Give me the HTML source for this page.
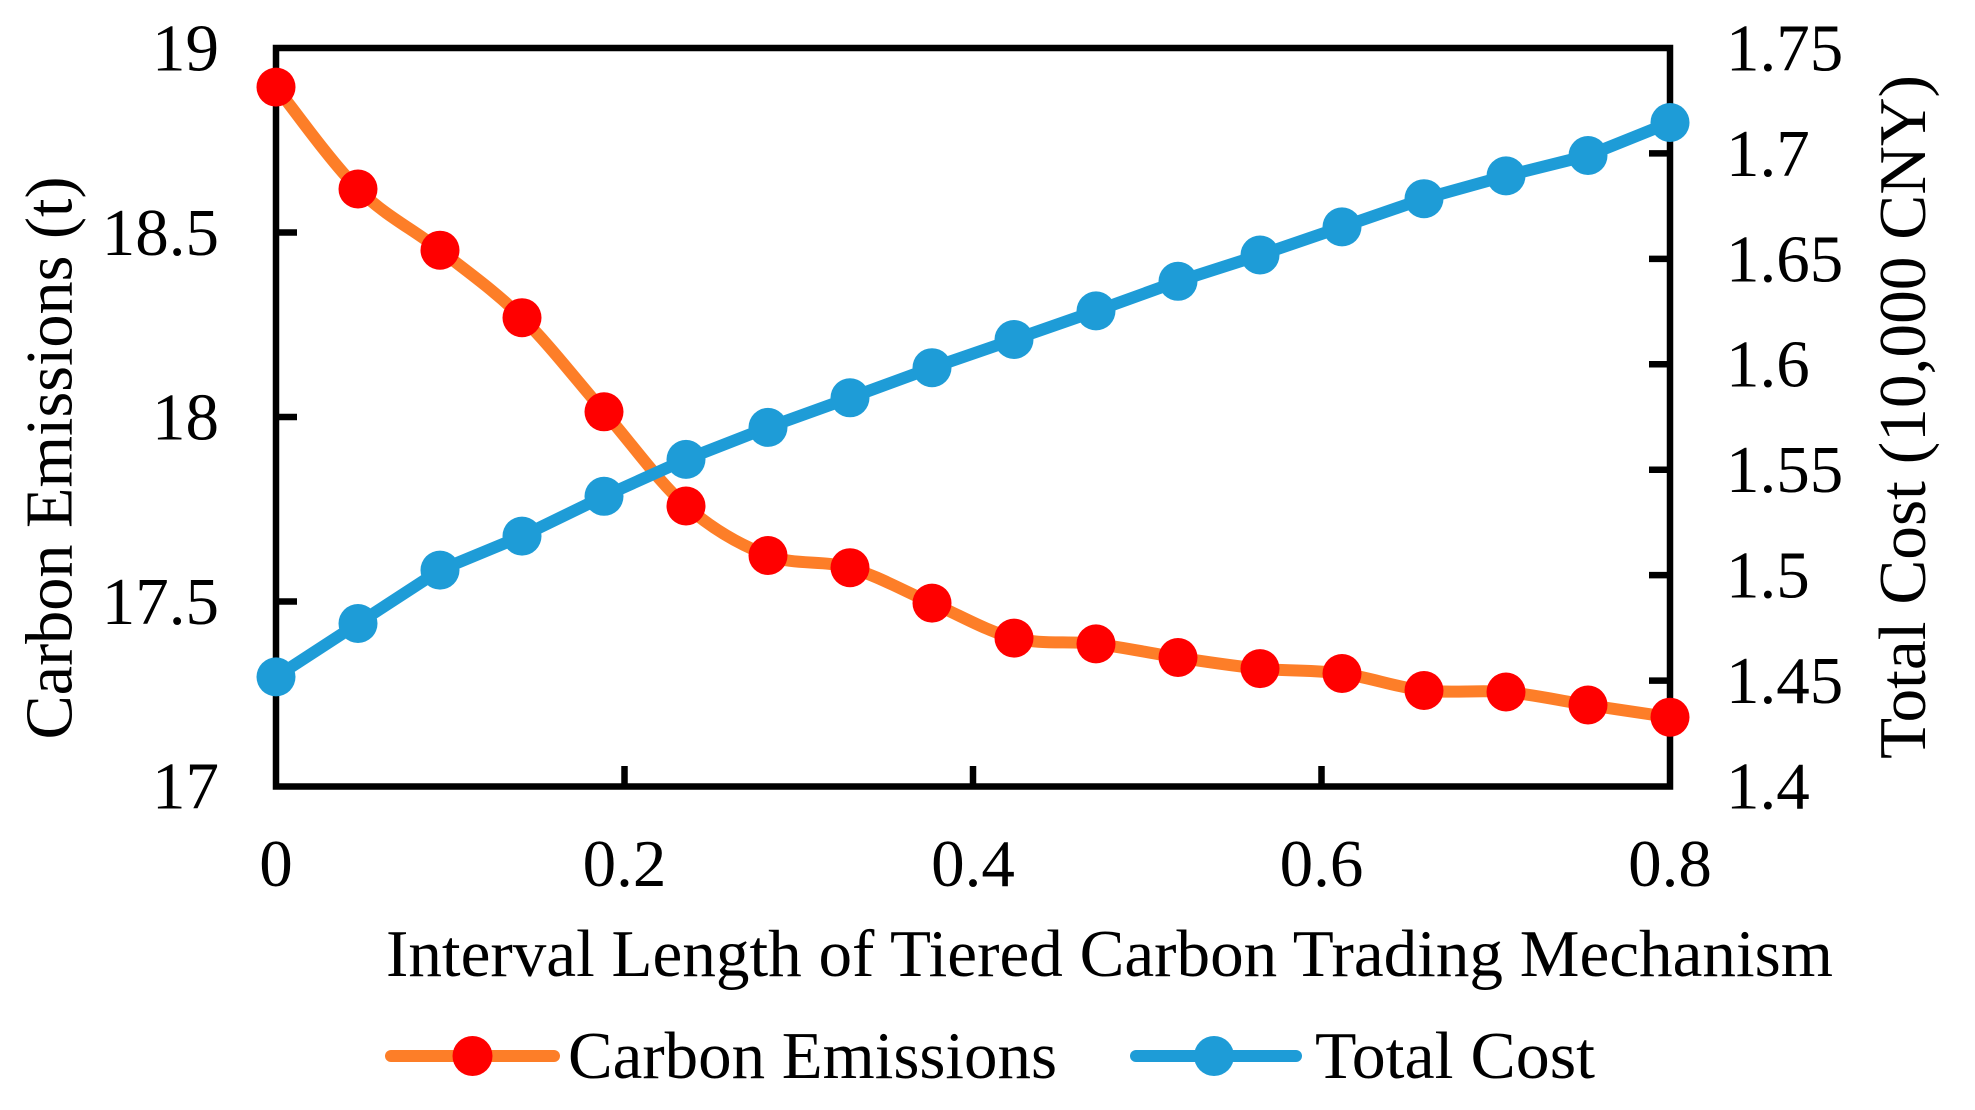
<!DOCTYPE html>
<html>
<head>
<meta charset="utf-8">
<style>
  html, body { margin: 0; padding: 0; background: #ffffff; }
  body { width: 1975px; height: 1110px; overflow: hidden; }
  svg { display: block; }
  text { font-family: "Liberation Serif", "Times New Roman", serif; fill: #000; }
</style>
</head>
<body>
<svg width="1975" height="1110" viewBox="0 0 1975 1110" xmlns="http://www.w3.org/2000/svg">
  <rect x="0" y="0" width="1975" height="1110" fill="#ffffff"/>

  <!-- Frame -->
  <rect x="276" y="48" width="1394" height="738.5" fill="none" stroke="#000" stroke-width="6.5"/>

  <!-- Left axis ticks (inward) -->
  <g stroke="#000" stroke-width="6.5">
    <line x1="276" y1="232.5" x2="297" y2="232.5"/>
    <line x1="276" y1="417" x2="297" y2="417"/>
    <line x1="276" y1="601.5" x2="297" y2="601.5"/>
    <!-- Right axis ticks (inward) -->
    <line x1="1670" y1="153.4" x2="1649" y2="153.4"/>
    <line x1="1670" y1="258.9" x2="1649" y2="258.9"/>
    <line x1="1670" y1="364.3" x2="1649" y2="364.3"/>
    <line x1="1670" y1="469.7" x2="1649" y2="469.7"/>
    <line x1="1670" y1="575.1" x2="1649" y2="575.1"/>
    <line x1="1670" y1="680.6" x2="1649" y2="680.6"/>
    <!-- Bottom axis ticks (inward) -->
    <line x1="624.5" y1="786.5" x2="624.5" y2="766"/>
    <line x1="973" y1="786.5" x2="973" y2="766"/>
    <line x1="1321.5" y1="786.5" x2="1321.5" y2="766"/>
  </g>

  <!-- Left tick labels -->
  <g font-size="67" text-anchor="end">
    <text x="219" y="70.5">19</text>
    <text x="219" y="255">18.5</text>
    <text x="219" y="439.5">18</text>
    <text x="219" y="624">17.5</text>
    <text x="219" y="808.5">17</text>
  </g>

  <!-- Right tick labels -->
  <g font-size="67" text-anchor="start">
    <text x="1726" y="70.5">1.75</text>
    <text x="1726" y="175.9">1.7</text>
    <text x="1726" y="281.3">1.65</text>
    <text x="1726" y="386.7">1.6</text>
    <text x="1726" y="492.1">1.55</text>
    <text x="1726" y="597.6">1.5</text>
    <text x="1726" y="703">1.45</text>
    <text x="1726" y="808.5">1.4</text>
  </g>

  <!-- Bottom tick labels -->
  <g font-size="67" text-anchor="middle">
    <text x="276" y="886">0</text>
    <text x="624.5" y="886">0.2</text>
    <text x="973" y="886">0.4</text>
    <text x="1321.5" y="886">0.6</text>
    <text x="1670" y="886">0.8</text>
  </g>

  <!-- Axis titles -->
  <text x="386" y="976" font-size="67" textLength="1447" lengthAdjust="spacingAndGlyphs">Interval Length of Tiered Carbon Trading Mechanism</text>
  <text transform="translate(71.5,458) rotate(-90)" x="0" y="0" font-size="67" text-anchor="middle" textLength="563" lengthAdjust="spacingAndGlyphs">Carbon Emissions (t)</text>
  <text transform="translate(1925,417) rotate(-90)" x="0" y="0" font-size="67" text-anchor="middle" textLength="684" lengthAdjust="spacingAndGlyphs">Total Cost (10,000 CNY)</text>

  <!-- Carbon Emissions series (smoothed orange line, red markers) -->
  <path fill="none" stroke="#FD7E28" stroke-width="12" stroke-linejoin="round" stroke-linecap="round"
    d="M276,87.1
       C289.67,104.08 330.67,161.82 358,189.0
       C385.33,216.18 412.67,228.75 440,250.2
       C467.33,271.65 494.67,290.77 522,317.7
       C549.33,344.63 576.67,380.42 604,411.8
       C631.33,443.18 658.67,482.05 686,506.0
       C713.33,529.95 740.67,545.22 768,555.5
       C795.33,565.78 822.67,559.77 850,567.7
       C877.33,575.63 904.67,591.37 932,603.1
       C959.33,614.83 986.67,631.3 1014,638.1
       C1041.33,644.9 1068.67,640.67 1096,643.9
       C1123.33,647.13 1150.67,653.38 1178,657.5
       C1205.33,661.62 1232.67,665.93 1260,668.6
       C1287.33,671.27 1314.67,669.85 1342,673.5
       C1369.33,677.15 1396.67,687.42 1424,690.5
       C1451.33,693.58 1478.67,689.58 1506,692.0
       C1533.33,694.42 1560.67,700.8 1588,705.0
       C1615.33,709.2 1656.33,715.17 1670,717.2"/>
  <g fill="#FF0000">
    <circle cx="276" cy="87.1" r="19.5"/>
    <circle cx="358" cy="189.0" r="19.5"/>
    <circle cx="440" cy="250.2" r="19.5"/>
    <circle cx="522" cy="317.7" r="19.5"/>
    <circle cx="604" cy="411.8" r="19.5"/>
    <circle cx="686" cy="506.0" r="19.5"/>
    <circle cx="768" cy="555.5" r="19.5"/>
    <circle cx="850" cy="567.7" r="19.5"/>
    <circle cx="932" cy="603.1" r="19.5"/>
    <circle cx="1014" cy="638.1" r="19.5"/>
    <circle cx="1096" cy="643.9" r="19.5"/>
    <circle cx="1178" cy="657.5" r="19.5"/>
    <circle cx="1260" cy="668.6" r="19.5"/>
    <circle cx="1342" cy="673.5" r="19.5"/>
    <circle cx="1424" cy="690.5" r="19.5"/>
    <circle cx="1506" cy="692.0" r="19.5"/>
    <circle cx="1588" cy="705.0" r="19.5"/>
    <circle cx="1670" cy="717.2" r="19.5"/>
  </g>

  <!-- Total Cost series (blue) -->
  <polyline fill="none" stroke="#1E9CD7" stroke-width="12" stroke-linejoin="round" stroke-linecap="round"
    points="276,676.9 358,623.5 440,570.1 522,536.1 604,496.3 686,459.4 768,427.4 850,397.8 932,367.7 1014,339.5 1096,310.9 1178,281.3 1260,255.0 1342,226.9 1424,198.7 1506,175.9 1588,155.5 1670,122.5"/>
  <g fill="#1E9CD7">
    <circle cx="276" cy="676.9" r="19.5"/>
    <circle cx="358" cy="623.5" r="19.5"/>
    <circle cx="440" cy="570.1" r="19.5"/>
    <circle cx="522" cy="536.1" r="19.5"/>
    <circle cx="604" cy="496.3" r="19.5"/>
    <circle cx="686" cy="459.4" r="19.5"/>
    <circle cx="768" cy="427.4" r="19.5"/>
    <circle cx="850" cy="397.8" r="19.5"/>
    <circle cx="932" cy="367.7" r="19.5"/>
    <circle cx="1014" cy="339.5" r="19.5"/>
    <circle cx="1096" cy="310.9" r="19.5"/>
    <circle cx="1178" cy="281.3" r="19.5"/>
    <circle cx="1260" cy="255.0" r="19.5"/>
    <circle cx="1342" cy="226.9" r="19.5"/>
    <circle cx="1424" cy="198.7" r="19.5"/>
    <circle cx="1506" cy="175.9" r="19.5"/>
    <circle cx="1588" cy="155.5" r="19.5"/>
    <circle cx="1670" cy="122.5" r="19.5"/>
  </g>

  <!-- Legend -->
  <line x1="391" y1="1056" x2="554" y2="1056" stroke="#FD7E28" stroke-width="12" stroke-linecap="round"/>
  <circle cx="472.5" cy="1056" r="20" fill="#FF0000"/>
  <text x="568" y="1078" font-size="67" textLength="489" lengthAdjust="spacingAndGlyphs">Carbon Emissions</text>

  <line x1="1136" y1="1056" x2="1296" y2="1056" stroke="#1E9CD7" stroke-width="12" stroke-linecap="round"/>
  <circle cx="1214" cy="1056" r="20" fill="#1E9CD7"/>
  <text x="1315" y="1078" font-size="67" textLength="280" lengthAdjust="spacingAndGlyphs">Total Cost</text>
</svg>
</body>
</html>
